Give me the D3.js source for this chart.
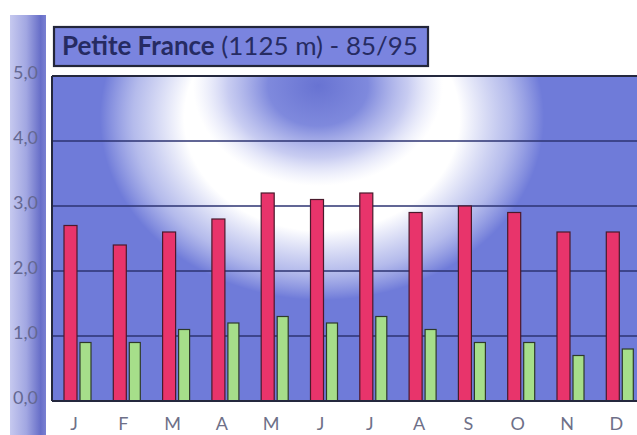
<!DOCTYPE html>
<html>
<head>
<meta charset="utf-8">
<script src="https://cdn.jsdelivr.net/npm/d3@7"></script>
<style>
  html, body { margin: 0; padding: 0; background: #ffffff; }
  svg { display: block; }
</style>
</head>
<body>
<svg id="chart" width="637" height="435"></svg>
<script>
// Monthly values, Petite France station (1125 m), 1985/95
const months = ["J", "F", "M", "A", "M", "J", "J", "A", "S", "O", "N", "D"];
const seriesRed = [2.7, 2.4, 2.6, 2.8, 3.2, 3.1, 3.2, 2.9, 3.0, 2.9, 2.6, 2.6];
const seriesGreen = [0.9, 0.9, 1.1, 1.2, 1.3, 1.2, 1.3, 1.1, 0.9, 0.9, 0.7, 0.8];
const yTicks = [0, 1, 2, 3, 4, 5];
const titleBold = "Petite France";
const titleRest = " (1125 m) - 85/95";

const svg = d3.select("#chart");
const W = 637, H = 435;
const plot = { left: 52, top: 76, bottom: 401 };
const monthIdx = months.map((_, i) => i);

const x = d3.scaleBand().domain(monthIdx).range([plot.left, plot.left + 12 * 49.3]).paddingInner(0);
const y = d3.scaleLinear().domain([0, 5]).range([plot.bottom, plot.top]);

const defs = svg.append("defs");

// left scale strip gradient
const strip = defs.append("linearGradient").attr("id", "strip").attr("x1", 0).attr("x2", 1).attr("y1", 0).attr("y2", 0);
strip.append("stop").attr("offset", "0%").attr("stop-color", "#c6c9ef");
strip.append("stop").attr("offset", "45%").attr("stop-color", "#a2a7e2");
strip.append("stop").attr("offset", "85%").attr("stop-color", "#676ec8");
strip.append("stop").attr("offset", "100%").attr("stop-color", "#7a80d2");

// plot background: white halo around a blue spot
const glow = defs.append("radialGradient").attr("id", "glow")
  .attr("gradientUnits", "userSpaceOnUse")
  .attr("cx", 322).attr("cy", 118).attr("r", 222)
  .attr("gradientTransform", "translate(322,118) scale(1,0.82) translate(-322,-118)");
glow.append("stop").attr("offset", "0%").attr("stop-color", "#ffffff").attr("stop-opacity", 1);
glow.append("stop").attr("offset", "62%").attr("stop-color", "#ffffff").attr("stop-opacity", 1);
glow.append("stop").attr("offset", "85%").attr("stop-color", "#eef0fb").attr("stop-opacity", 0.55);
glow.append("stop").attr("offset", "100%").attr("stop-color", "#ffffff").attr("stop-opacity", 0);

const blob = defs.append("radialGradient").attr("id", "blob")
  .attr("gradientUnits", "userSpaceOnUse")
  .attr("cx", 318).attr("cy", 86).attr("r", 125)
  .attr("gradientTransform", "translate(318,86) scale(1,0.8) translate(-318,-86)");
blob.append("stop").attr("offset", "0%").attr("stop-color", "#6873d2").attr("stop-opacity", 1);
blob.append("stop").attr("offset", "40%").attr("stop-color", "#7883db").attr("stop-opacity", 0.95);
blob.append("stop").attr("offset", "72%").attr("stop-color", "#a3aae8").attr("stop-opacity", 0.6);
blob.append("stop").attr("offset", "100%").attr("stop-color", "#c8cdf3").attr("stop-opacity", 0);

defs.append("clipPath").attr("id", "plotclip").append("rect")
  .attr("x", plot.left).attr("y", plot.top)
  .attr("width", W - plot.left).attr("height", plot.bottom - plot.top);

// left strip
svg.append("rect").attr("x", 10).attr("y", 15).attr("width", 36).attr("height", H - 15).attr("fill", "url(#strip)");

// y labels
svg.append("g").selectAll("text").data(yTicks).join("text")
  .attr("x", 38).attr("y", d => y(d) + 3)
  .attr("text-anchor", "end")
  .attr("font-family", "Lato, 'DejaVu Sans', sans-serif")
  .attr("font-size", 18)
  .attr("fill", "#646892")
  .text(d => d3.format(".1f")(d).replace(".", ","));

// plot background
const bg = svg.append("g").attr("clip-path", "url(#plotclip)");
const bgRect = () => bg.append("rect").attr("x", plot.left).attr("y", plot.top)
  .attr("width", W - plot.left).attr("height", plot.bottom - plot.top);
bgRect().attr("fill", "#6f7bd9");
bgRect().attr("fill", "url(#glow)");
bgRect().attr("fill", "url(#blob)");

// gridlines
svg.append("g").selectAll("line").data(yTicks.filter(d => d > 0 && d < 5)).join("line")
  .attr("x1", plot.left).attr("x2", W)
  .attr("y1", d => y(d)).attr("y2", d => y(d))
  .attr("stroke", "#2c3372").attr("stroke-width", 1.6);

// bars
const bars = svg.append("g");
bars.selectAll("rect.red").data(seriesRed).join("rect").attr("class", "red")
  .attr("x", (d, i) => x(i) + 12).attr("width", 13)
  .attr("y", d => y(d)).attr("height", d => y(0) - y(d))
  .attr("fill", "#e8346b").attr("stroke", "#4a1a2c").attr("stroke-width", 1.2);
bars.selectAll("rect.green").data(seriesGreen).join("rect").attr("class", "green")
  .attr("x", (d, i) => x(i) + 28).attr("width", 11)
  .attr("y", d => y(d)).attr("height", d => y(0) - y(d))
  .attr("fill", "#a6de8a").attr("stroke", "#2e3a2a").attr("stroke-width", 1.2);

// frame: top, left, bottom
const frame = svg.append("g").attr("stroke", "#24283e");
frame.append("line").attr("x1", plot.left).attr("x2", W).attr("y1", plot.top).attr("y2", plot.top).attr("stroke-width", 2.2);
frame.append("line").attr("x1", plot.left).attr("x2", plot.left).attr("y1", plot.top).attr("y2", plot.bottom).attr("stroke-width", 2);
frame.append("line").attr("x1", plot.left).attr("x2", W).attr("y1", plot.bottom).attr("y2", plot.bottom).attr("stroke-width", 2);

// month labels
svg.append("g").selectAll("text").data(monthIdx).join("text")
  .attr("x", i => x(i) + 22).attr("y", 430)
  .attr("text-anchor", "middle")
  .attr("font-family", "Lato, 'DejaVu Sans', sans-serif")
  .attr("font-weight", 400)
  .attr("font-size", 18)
  .attr("fill", "#6e7088")
  .text(i => months[i]);

// title box
svg.append("rect").attr("x", 54).attr("y", 27).attr("width", 374).attr("height", 39)
  .attr("fill", "#7a84df").attr("stroke", "#23263a").attr("stroke-width", 2.2);
const title = svg.append("text").attr("x", 62).attr("y", 55)
  .attr("font-family", "Lato, 'DejaVu Sans', sans-serif")
  .attr("font-size", 24)
  .attr("fill", "#262b62");
title.append("tspan").attr("font-weight", 700).text(titleBold);
title.append("tspan").attr("font-weight", 400).text(titleRest);
// fit title text inside the box
const tw = title.node().getComputedTextLength();
title.attr("font-size", 24 * 356 / tw);
</script>
</body>
</html>
